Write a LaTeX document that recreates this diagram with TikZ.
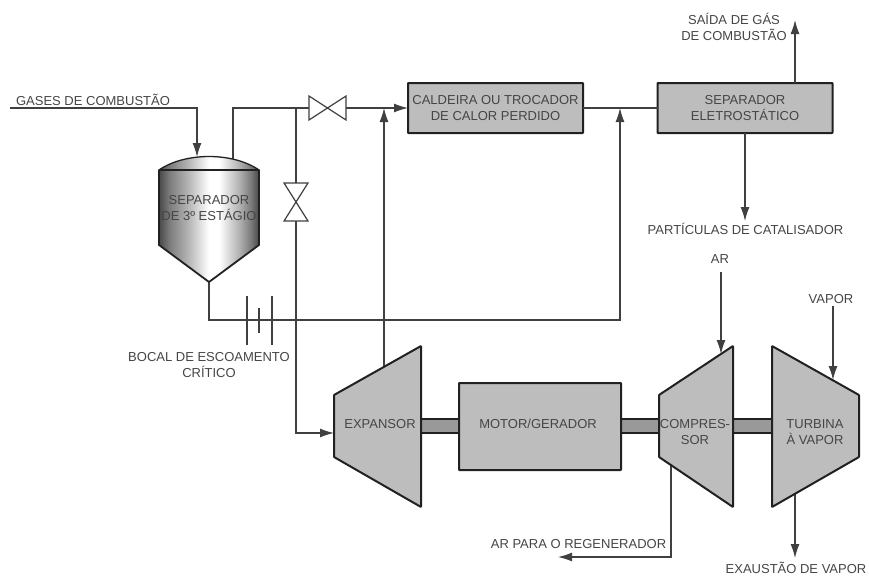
\documentclass[tikz,border=0pt]{standalone}
\usepackage{fontspec}
\setmainfont{Liberation Sans}
\usetikzlibrary{arrows.meta}
\definecolor{boxgray}{gray}{0.74}
\definecolor{shaftgray}{gray}{0.6}
\definecolor{txt}{gray}{0.27}
\definecolor{edge}{gray}{0.13}
\definecolor{pipec}{gray}{0.25}
\pgfdeclarehorizontalshading{tankbody}{100bp}{color(0bp)=(black!72);color(25bp)=(black!72);color(30bp)=(black!52);color(40bp)=(black!28);color(50bp)=(white);color(55bp)=(white);color(65bp)=(black!30);color(71bp)=(black!52);color(75bp)=(black!72);color(100bp)=(black!72)}
\tikzset{
  x=1pt,y=-1pt,
  lbl/.style={font=\fontsize{13}{16}\selectfont,text=txt,align=center,inner sep=0pt},
  unit/.style={draw=edge,fill=boxgray,line width=2pt,line join=round,rounded corners=0.5pt},
  boxnode/.style={unit,lbl,outer sep=0pt,minimum height=50pt,minimum width=175pt},
  pipe/.style={draw=pipec,line width=1.3pt},
  flow/.style={pipe,-{Latex[length=14pt,width=9pt]}},
  valve/.style={draw=pipec,fill=white,line width=1.2pt,line join=miter},
  shaft/.style={fill=shaftgray,draw=none},
  shaftedge/.style={draw=edge,line width=2pt}
}
\begin{document}
\begin{tikzpicture}
\useasboundingbox (0,0) rectangle (869,576);
% named points
\coordinate (gasin) at (10,108);
\coordinate (tanktop) at (197,157);
\coordinate (tankout) at (233,160);
\coordinate (tankapex) at (209,282);
\coordinate (hvl) at (309,108);
\coordinate (hvr) at (346,108);
\coordinate (vvt) at (296,183);
\coordinate (vvb) at (296,221);
\coordinate (jct) at (296,108);
\coordinate (expin) at (334,433);
\coordinate (expout) at (384,367);
\coordinate (mix) at (620,108);
\coordinate (sepup) at (795,20);
\coordinate (sepdn) at (745,221);
\coordinate (arin) at (721,272);
\coordinate (artip) at (721,354);
\coordinate (vapin) at (833,306);
\coordinate (vaptip) at (833,380);
\coordinate (exh1) at (795,494);
\coordinate (exh2) at (795,558);
\coordinate (reg1) at (671,465);
\coordinate (reg2) at (558,557);
% boxes
\node[boxnode] (cald) at (495.5,108) {CALDEIRA OU TROCADOR\\DE CALOR PERDIDO};
\node[boxnode] (sep) at (745,108) {SEPARADOR\\ELETROSTÁTICO};
% connectors
\draw[flow] (gasin) -| (tanktop);
\draw[pipe] (tankout) |- (hvl);
\draw[flow] (hvr) -- (cald.west);
\draw[pipe] (jct) -- (vvt);
\draw[flow] (vvb) |- (expin);
\draw[flow] (expout) -- (expout |- cald.west);
\draw[pipe] (cald.east) -- (sep.west);
\draw[flow] (tankapex) |- (620,320) -- (mix);
\draw[flow] (sep.north -| sepup) -- (sepup);
\draw[flow] (sep.south) -- (sepdn);
\draw[flow] (arin) -- (artip);
\draw[flow] (vapin) -- (vaptip);
\draw[flow] (exh1) -- (exh2);
\draw[flow] (reg1) |- (reg2);
% nozzle
\draw[line width=1.2pt,draw=pipec] (247,296) -- (247,345) (272,296) -- (272,345) (259,308) -- (259,333);
% valves
\draw[valve] (309,96) -- (346,120) -- (346,96) -- (309,120) -- cycle;
\draw[valve] (284,183) -- (308,183) -- (284,221) -- (308,221) -- cycle;
% tank
\path[shading=tankbody] (159,170) .. controls (185,152) and (233,152) .. (259,170) -- cycle;
\draw[draw=edge,line width=1.3pt] (159,170) .. controls (185,152) and (233,152) .. (259,170);
\path[shading=tankbody] (159,170) -- (159,245) -- (tankapex) -- (259,245) -- (259,170) -- cycle;
\draw[draw=edge,line width=1.8pt,line join=round] (159,170) -- (159,245) -- (tankapex) -- (259,245) -- (259,170) -- cycle;
\node[lbl] (tank) at (209,208) {SEPARADOR\\DE 3º ESTÁGIO};
% machines
\path[shaft] (421,419) rectangle (459,433);
\path[shaft] (621,419) rectangle (659,433);
\path[shaft] (733,419) rectangle (772,433);
\draw[shaftedge] (421,419) -- (459,419) (421,433) -- (459,433) (621,419) -- (659,419) (621,433) -- (659,433) (733,419) -- (772,419) (733,433) -- (772,433);
\draw[unit] (334,395) -- (421,346) -- (421,507) -- (334,457) -- cycle;
\draw[unit] (459,383) rectangle (621,470);
\draw[unit] (659,395) -- (733,346) -- (733,507) -- (659,457) -- cycle;
\draw[unit] (772,346) -- (859,395) -- (859,457) -- (772,507) -- cycle;
\node[lbl] (expl) at (380,424) {EXPANSOR};
\node[lbl] (motl) at (538,424) {MOTOR/GERADOR};
\node[lbl] (coml) at (695,432) {COMPRES-\\SOR};
\node[lbl] (turl) at (815,432) {TURBINA\\À VAPOR};
% labels
\node[lbl] (l1) at (93,100) {GASES DE COMBUSTÃO};
\node[lbl] (l2) at (209,365.5) {BOCAL DE ESCOAMENTO\\CRÍTICO};
\node[lbl] (l3) at (734,27) {SAÍDA DE GÁS\\DE COMBUSTÃO};
\node[lbl] (l4) at (745.5,229) {PARTÍCULAS DE CATALISADOR};
\node[lbl] (l5) at (720,259) {AR};
\node[lbl] (l6) at (831,299) {VAPOR};
\node[lbl] (l7) at (578.5,544) {AR PARA O REGENERADOR};
\node[lbl] (l8) at (796,568) {EXAUSTÃO DE VAPOR};
\end{tikzpicture}
\end{document}
